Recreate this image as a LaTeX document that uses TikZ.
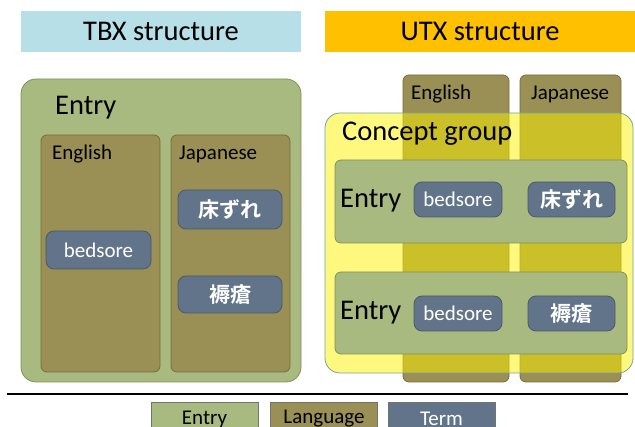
\documentclass[tikz,border=0pt]{standalone}
\usepackage{fontspec}
\setmainfont{Carlito}
\newfontfamily\jpfont{Noto Sans CJK JP}[BoldFont={* Bold}]
\definecolor{hdrblue}{HTML}{B7DFE8}
\definecolor{hdrgold}{HTML}{FFC000}
\definecolor{entryfill}{HTML}{A9BA80}
\definecolor{entryline}{HTML}{7F9158}
\definecolor{langfill}{HTML}{9A8F54}
\definecolor{langline}{HTML}{776C39}
\definecolor{termfill}{HTML}{627489}
\definecolor{termline}{HTML}{4A5A6C}
\definecolor{groupline}{HTML}{6FA3A8}
\tikzset{
  box/.style={inner sep=0pt, outer sep=0pt},
  header/.style={box, font=\fontsize{28.5}{31}\selectfont},
  entrybox/.style={box, fill=entryfill, draw=entryline, line width=0.8pt},
  langbox/.style={box, fill=langfill, draw=langline, line width=0.8pt, rounded corners=6pt},
  termbox/.style={box, fill=termfill, draw=termline, line width=0.8pt, rounded corners=8pt,
    text=white, font=\fontsize{21}{24}\selectfont},
  jpterm/.style={termbox, font=\fontsize{21}{24}\selectfont\jpfont\bfseries},
  biglabel/.style={anchor=west, inner sep=0pt, font=\fontsize{28.5}{31}\selectfont},
  langlabel/.style={anchor=west, inner sep=0pt, font=\fontsize{21}{24}\selectfont},
  legendbox/.style={box, draw=black!55, line width=0.6pt, minimum width=107pt, minimum height=34pt,
    font=\fontsize{21}{24}\selectfont},
}
\begin{document}
\begin{tikzpicture}[x=1pt, y=-1pt]
\useasboundingbox (0,0) rectangle (635,427);

% headers
\node[header, fill=hdrblue, minimum width=280pt, minimum height=41pt] (tbxhead) at (161,31.5) {TBX structure};
\node[header, fill=hdrgold, minimum width=310pt, minimum height=41pt] (utxhead) at (480,31.5) {UTX structure};

% ---- TBX side ----
\node[entrybox, rounded corners=15pt, minimum width=280pt, minimum height=303pt] (tbxentry) at (161,230.5) {};
\node[biglabel] (tbxentrylbl) at (55,108) {Entry};
\node[langbox, minimum width=119pt, minimum height=237pt] (tbxen) at (100.5,253.5) {};
\node[langbox, minimum width=119pt, minimum height=237pt] (tbxja) at (230.5,253.5) {};
\node[langlabel] (tbxenlbl) at (52,154) {English};
\node[langlabel] (tbxjalbl) at (179,154) {Japanese};
\node[termbox, minimum width=105pt, minimum height=38pt] (tbxbed) at (98.5,250) {bedsore};
\node[jpterm, minimum width=104pt, minimum height=39pt] (tbxtoko) at (230,209.5) {床ずれ};
\node[jpterm, minimum width=104pt, minimum height=37pt] (tbxjoku) at (230,294.5) {褥瘡};

% ---- UTX side ----
\node[langbox, minimum width=106pt, minimum height=307pt] (utxen) at (456,228.5) {};
\node[langbox, minimum width=101pt, minimum height=307pt] (utxja) at (570.5,228.5) {};
\node[langlabel] (utxenlbl) at (411,94) {English};
\node[langlabel] (utxjalbl) at (531,94) {Japanese};
\node[box, fill=yellow, fill opacity=0.5, draw=groupline, draw opacity=1, line width=0.8pt,
  rounded corners=15pt, minimum width=308pt, minimum height=260pt] (group) at (479,243) {};
\node[biglabel] (grouplbl) at (342,134) {Concept group};

\node[entrybox, rounded corners=6pt, minimum width=292pt, minimum height=83pt] (utxentry1) at (481,201.5) {};
\node[biglabel] (utxentry1lbl) at (340,201) {Entry};
\node[termbox, minimum width=88pt, minimum height=35pt] (utxbed1) at (458,199.5) {bedsore};
\node[jpterm, minimum width=87pt, minimum height=35pt] (utxtoko) at (571.5,199.5) {床ずれ};

\node[entrybox, rounded corners=6pt, minimum width=292pt, minimum height=82pt] (utxentry2) at (481,313) {};
\node[biglabel] (utxentry2lbl) at (340,313) {Entry};
\node[termbox, minimum width=88pt, minimum height=35pt] (utxbed2) at (458,313.5) {bedsore};
\node[jpterm, minimum width=87pt, minimum height=35pt] (utxjoku) at (571.5,313.5) {褥瘡};

% separator and legend
\coordinate (sepL) at (7,394);
\coordinate (sepR) at (628,394);
\draw[line width=2pt] (sepL) -- (sepR);
\node[legendbox, fill=entryfill] (legentry) at (204.5,419) {Entry};
\node[legendbox, fill=langfill] (leglang) at (324,419) {Language};
\node[legendbox, fill=termfill, text=white] (legterm) at (441.5,419) {Term};
\end{tikzpicture}
\end{document}
